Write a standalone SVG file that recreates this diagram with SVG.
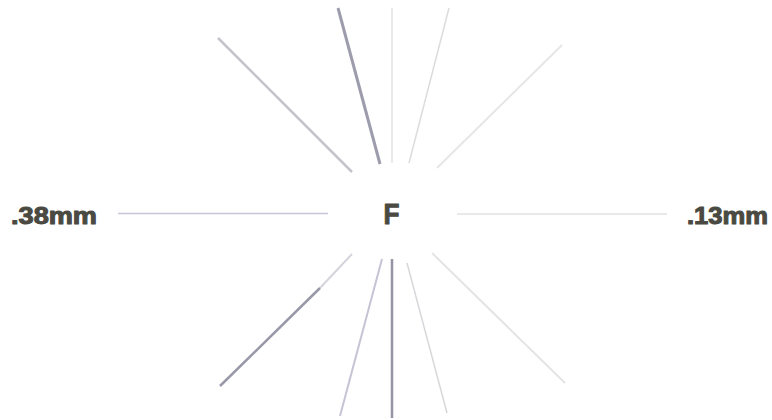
<svg xmlns="http://www.w3.org/2000/svg" width="772" height="420" viewBox="0 0 772 420">
<style>
.lbl{font-family:"Liberation Sans",Arial,sans-serif;font-weight:bold;fill:#4a4a42;stroke:#4a4a42;stroke-width:1;stroke-linejoin:round}
.ray{fill:none;stroke-linecap:butt}
</style>
<rect width="772" height="420" fill="#ffffff"/>
<g id="connectors" class="ray">
<line x1="218" y1="38" x2="352" y2="172" stroke="#c4c4cc" stroke-width="2.5"/>
<line x1="338" y1="8" x2="380" y2="164" stroke="#9c9cac" stroke-width="3"/>
<line x1="392" y1="8" x2="392" y2="163" stroke="#e2e2e2" stroke-width="1.5"/>
<line x1="449" y1="8" x2="409" y2="163" stroke="#dcdce0" stroke-width="1.5"/>
<line x1="562" y1="45" x2="437" y2="168" stroke="#e6e6e6" stroke-width="2"/>
<line x1="352" y1="254" x2="320" y2="288" stroke="#d4d4dc" stroke-width="2"/>
<line x1="320" y1="288" x2="220" y2="386" stroke="#9898a8" stroke-width="2.5"/>
<line x1="382" y1="259" x2="340" y2="416" stroke="#c4c4d4" stroke-width="2"/>
<line x1="392" y1="259" x2="392" y2="418" stroke="#9494a4" stroke-width="2.5"/>
<line x1="407" y1="263" x2="447" y2="413" stroke="#d8d8dc" stroke-width="1.5"/>
<line x1="432" y1="253" x2="565" y2="383" stroke="#e4e4e4" stroke-width="2"/>
<line x1="118" y1="213.5" x2="328" y2="213.5" stroke="#c8c8d8" stroke-width="1.5"/>
<line x1="457" y1="214" x2="667" y2="214" stroke="#e2e2e2" stroke-width="1.5"/>
</g>
<g id="left-label"><text class="lbl" x="11" y="224" font-size="23" textLength="86" lengthAdjust="spacingAndGlyphs">.38mm</text></g>
<g id="center"><text class="lbl" x="383.5" y="224" font-size="30" textLength="16" lengthAdjust="spacingAndGlyphs">F</text></g>
<g id="right-label"><text class="lbl" x="687" y="224" font-size="23" textLength="81" lengthAdjust="spacingAndGlyphs">.13mm</text></g>
</svg>
